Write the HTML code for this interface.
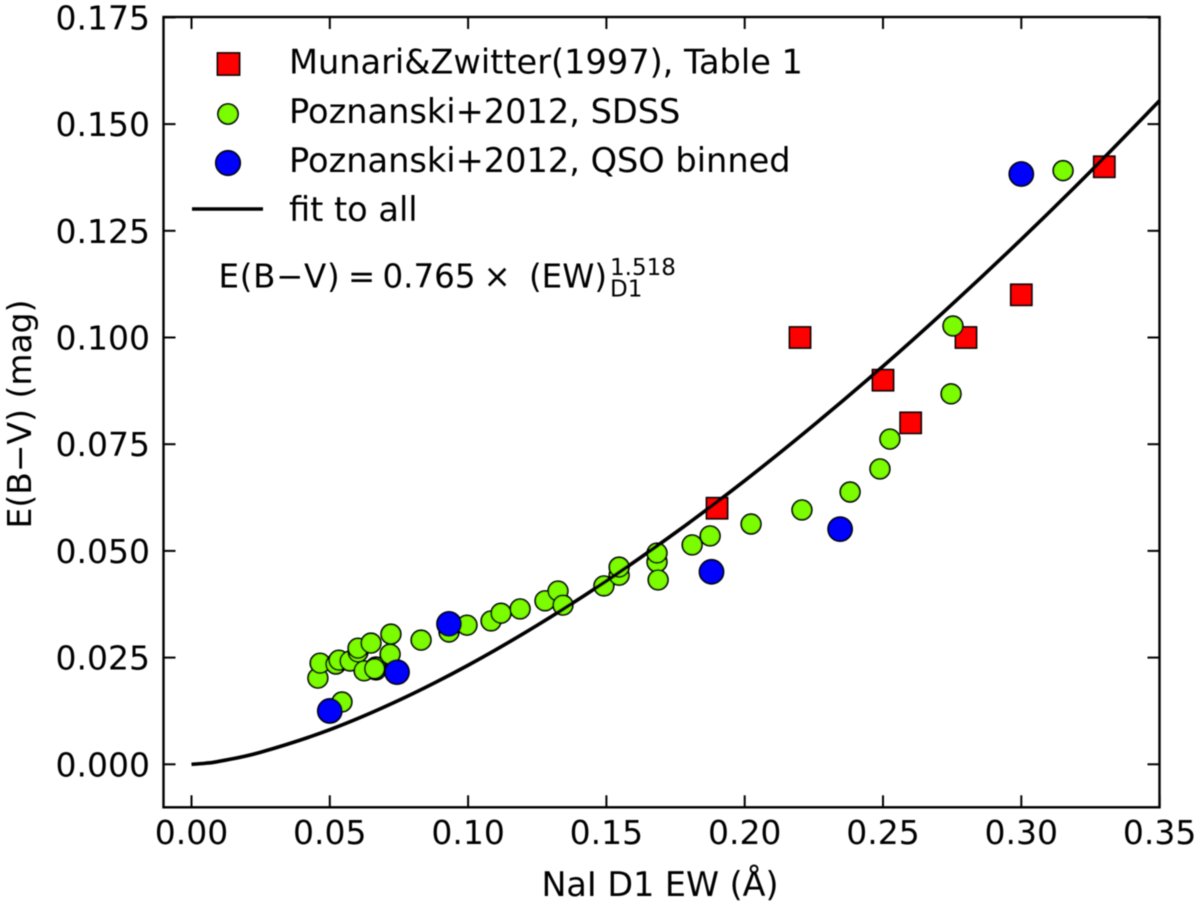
<!DOCTYPE html>
<html lang="en">
<head>
<meta charset="utf-8">
<title>E(B-V) vs NaI D1 EW</title>
<style>
html,body{margin:0;padding:0;background:#fff;width:1200px;height:907px;overflow:hidden}
svg{display:block}
text{font-family:"DejaVu Sans","Liberation Sans",sans-serif;fill:#000}
</style>
</head>
<body>
<svg id="chart" xmlns="http://www.w3.org/2000/svg" width="1200" height="907" viewBox="0 0 1200 907">
  <g id="blurred" filter="url(#soft)"></g>
  <defs><filter id="soft" x="0" y="0" width="100%" height="100%"><feGaussianBlur stdDeviation="0.45"/></filter></defs>
</svg>
<script>
const xTickLabels = ["0.00","0.05","0.10","0.15","0.20","0.25","0.30","0.35"];
const yTickLabels = ["0.000","0.025","0.050","0.075","0.100","0.125","0.150","0.175"];

const redX = [0.19,0.22,0.25,0.26,0.28,0.30,0.33];
const redY = [0.060,0.100,0.090,0.080,0.100,0.110,0.140];

const greenX = [0.0457,0.0465,0.0522,0.0533,0.0573,0.0602,0.0602,0.0649,0.0624,0.0667,0.0667,0.0718,0.0721,0.0830,0.0931,0.0996,0.1083,0.1119,0.1188,0.1278,0.1325,0.1343,0.1491,0.1546,0.1546,0.1683,0.1683,0.1687,0.1810,0.1875,0.2023,0.2207,0.2381,0.2489,0.2525,0.2746,0.2753,0.3151,0.0544,0.0662];
const greenY = [0.0202,0.0237,0.0235,0.0244,0.0242,0.0263,0.0272,0.0284,0.0219,0.0221,0.0228,0.0258,0.0305,0.0291,0.0310,0.0326,0.0336,0.0354,0.0364,0.0383,0.0406,0.0373,0.0418,0.0443,0.0462,0.0474,0.0495,0.0432,0.0514,0.0535,0.0563,0.0596,0.0638,0.0692,0.0762,0.0868,0.1027,0.1391,0.0146,0.0224];

const blueX = [0.0500,0.0743,0.0931,0.1880,0.2345,0.3000];
const blueY = [0.0125,0.0216,0.0329,0.0451,0.0551,0.1383];

const fitX = [0,0.005,0.01,0.025,0.05,0.075,0.1,0.125,0.15,0.175,0.2,0.225,0.25,0.275,0.3,0.325,0.35];
const fitY = [0,0.00025,0.0007,0.00283,0.00811,0.0150,0.02321,0.03258,0.04295,0.05428,0.06646,0.0795,0.09327,0.1078,0.1230,0.1389,0.1555];

const NS = "http://www.w3.org/2000/svg";
const root = document.getElementById("blurred");
const PLOT = {left:163.5, right:1159.5, top:17, bottom:807.3};
function sx(v){ return 191.5 + v * 2766; }
function sy(v){ return 764.3 - v * 4268; }
function make(tag, attrs, parent){
  const el = document.createElementNS(NS, tag);
  for (const k in attrs) el.setAttribute(k, attrs[k]);
  (parent || root).appendChild(el);
  return el;
}
function group(){
  return make("g", {});
}

/* markers */
const redGroup = group();


redX.forEach(function(v, i){
  const s = 21;
  const m = make("rect", {x:sx(v)-s/2, y:sy(redY[i])-s/2, width:s, height:s, fill:"#ff0000", stroke:"#000", "stroke-width":1.8}, redGroup);
  
  
});
const greenGroup = group();


greenX.forEach(function(v, i){
  const m = make("circle", {cx:sx(v), cy:sy(greenY[i]), r:9.8, fill:"#7cfc00", stroke:"#000", "stroke-width":1.8}, greenGroup);
  
  
});
const blueGroup = group();


blueX.forEach(function(v, i){
  const m = make("circle", {cx:sx(v), cy:sy(blueY[i]), r:12, fill:"#0000ff", stroke:"#000", "stroke-width":1.8}, blueGroup);
  
  
});

/* fit line: smooth Catmull-Rom path through fit arrays */
const pts = fitX.map(function(v, i){ return [sx(v), sy(fitY[i])]; });
let d = "M" + pts[0][0] + " " + pts[0][1];
for (let i = 0; i < pts.length - 1; i++){
  const p0 = pts[Math.max(i-1,0)], p1 = pts[i], p2 = pts[i+1], p3 = pts[Math.min(i+2,pts.length-1)];
  d += " C" + (p1[0]+(p2[0]-p0[0])/6) + " " + (p1[1]+(p2[1]-p0[1])/6) + " " + (p2[0]-(p3[0]-p1[0])/6) + " " + (p2[1]-(p3[1]-p1[1])/6) + " " + p2[0] + " " + p2[1];
}
const fitLine = make("path", {d:d, fill:"none", stroke:"#000", "stroke-width":3.6});



/* ticks */
const xTicks = group();


xTickLabels.forEach(function(lab){
  const x = sx(parseFloat(lab));
  make("line", {x1:x, x2:x, y1:PLOT.bottom, y2:PLOT.bottom-12, stroke:"#000", "stroke-width":2}, xTicks);
  make("line", {x1:x, x2:x, y1:PLOT.top, y2:PLOT.top+12, stroke:"#000", "stroke-width":2}, xTicks);
  const t = make("text", {x:x, y:844, "text-anchor":"middle", "font-size":33}, xTicks);
  t.textContent = lab;
  
  
});
const yTicks = group();


yTickLabels.forEach(function(lab){
  const y = sy(parseFloat(lab));
  make("line", {x1:PLOT.left, x2:PLOT.left+12, y1:y, y2:y, stroke:"#000", "stroke-width":2}, yTicks);
  make("line", {x1:PLOT.right, x2:PLOT.right-12, y1:y, y2:y, stroke:"#000", "stroke-width":2}, yTicks);
  const t = make("text", {x:150, y:y+12, "text-anchor":"end", "font-size":33}, yTicks);
  t.textContent = lab;
  
  
});

/* frame */
const frame = make("rect", {x:PLOT.left, y:PLOT.top, width:PLOT.right-PLOT.left, height:PLOT.bottom-PLOT.top, fill:"none", stroke:"#000", "stroke-width":2.4});



/* axis titles */
const xTitle = make("text", {x:660, y:896, "text-anchor":"middle", "font-size":33.4});
xTitle.textContent = "NaI D1 EW (Å)";


const yTitle = make("text", {x:0, y:0, "text-anchor":"middle", "font-size":33, transform:"translate(31,414) rotate(-90)"});
yTitle.textContent = "E(B−V) (mag)";



/* legend */
const legend = group();


const legendLabels = ["Munari&Zwitter(1997), Table 1","Poznanski+2012, SDSS","Poznanski+2012, QSO binned","fit to all"];
const legendBaselines = [73.5,123,172,221];
legendLabels.forEach(function(lab, i){
  const t = make("text", {x:289, y:legendBaselines[i], "font-size":33.6}, legend);
  t.textContent = lab;
  
  
});
const lk1 = make("rect", {x:217.5, y:53, width:22, height:22, fill:"#ff0000", stroke:"#000", "stroke-width":1.8}, legend);


const lk2 = make("circle", {cx:228, cy:114, r:10, fill:"#7cfc00", stroke:"#000", "stroke-width":1.8}, legend);


const lk3 = make("circle", {cx:228, cy:163, r:12.2, fill:"#0000ff", stroke:"#000", "stroke-width":1.8}, legend);


const lk4 = make("line", {x1:192, x2:263, y1:209, y2:209, stroke:"#000", "stroke-width":3.6}, legend);



/* equation */
const eq = group();


const eqParts = [["E(B−V)",218.5,0.7],["=",348,0],["0.765",382.5,0],["×",483.5,0],["(EW)",529,0]];
eqParts.forEach(function(p){
  const t = make("text", {x:p[1], y:287.5, "font-size":32.5, "letter-spacing":p[2]}, eq);
  t.textContent = p[0];
  
  
});
const eqSup = make("text", {x:610, y:275, "font-size":23}, eq);
eqSup.textContent = "1.518";


const eqSub = make("text", {x:610, y:296.5, "font-size":23}, eq);
eqSub.textContent = "D1";


</script>
</body>
</html>
